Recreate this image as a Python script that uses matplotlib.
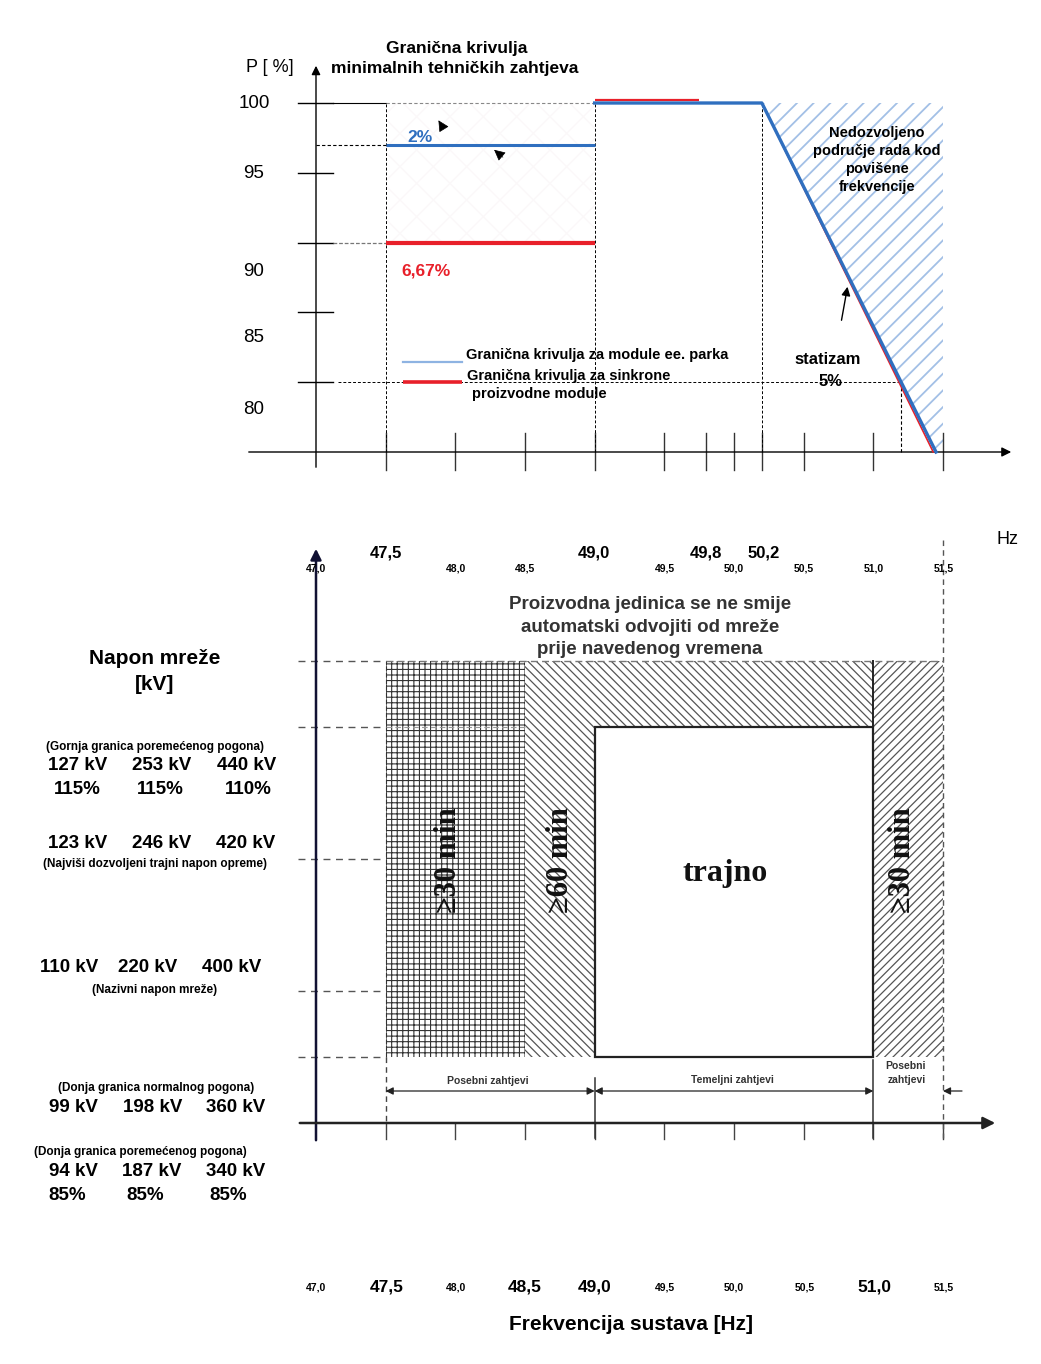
import matplotlib
matplotlib.use("Agg")
import matplotlib.pyplot as plt
from matplotlib.patches import Polygon, Rectangle

plt.rcParams['font.family'] = ['Liberation Sans', 'DejaVu Sans']

# ---------------- data ----------------
freq_ticks_top = [47.5, 48.0, 48.5, 49.0, 49.5, 49.8, 50.0, 50.2, 50.5, 51.0, 51.5]
p_ticks = [100, 95, 90, 85, 80]
p_tick_labels = ['100', '95', '90', '85', '80']

blue_low_f = [47.5, 49.0]
blue_low_p = [97, 97]
red_low_f = [47.5, 49.0]
red_low_p = [90, 90]
blue_curve_f = [49.0, 50.2, 51.45]
blue_curve_p = [100, 100, 75]
red_top_f = [49.0, 49.75]
red_top_p = [100, 100]
red_slope_f = [50.2, 51.43]
red_slope_p = [100, 75]
statizam_f = 51.2
statizam_p = 80

big_freq_labels_top = ['47,5', '49,0', '49,8', '50,2']
small_freq_labels_top = ['47,0', '48,0', '48,5', '49,5', '50,0', '50,5', '51,0', '51,5']

# bottom (schematic voltage rows)
band_edges = [47.5, 48.5, 49.0, 51.0, 51.5]
row_low_normal = 0
row_nominal = 1
row_mid = 3
row_max_cont = 5
row_upper = 6
dashed_rows = [6, 5, 3, 1, 0]
freq_ticks_bottom = [47.5, 48.0, 48.5, 49.0, 49.5, 50.0, 50.5, 51.0, 51.5]
bottom_labels = ['47,0', '47,5', '48,0', '48,5', '49,0', '49,5', '50,0', '50,5', '51,0', '51,5']
bottom_big = [False, True, False, True, True, False, False, False, True, False]

kv_upper = ['127 kV', '253 kV', '440 kV']
pct_upper = ['115%', '115%', '110%']
kv_max = ['123 kV', '246 kV', '420 kV']
kv_nom = ['110 kV', '220 kV', '400 kV']
kv_low_norm = ['99 kV', '198 kV', '360 kV']
kv_low_dist = ['94 kV', '187 kV', '340 kV']
pct_low = ['85%', '85%', '85%']

# ---------------- layout helpers ----------------
W, H = 1041, 1364
fig = plt.figure(figsize=(W / 100, H / 100), dpi=100)

HZ0_PX, PX_PER_HZ = 316.0, 139.33
P100_PY, PX_PER_PCT = 103.0, 13.96
ROW0_PY, PX_PER_ROW = 1057.0, 66.0


def hz(px):
    return 47.0 + (px - HZ0_PX) / PX_PER_HZ


def pct(py):
    return 100.0 - (py - P100_PY) / PX_PER_PCT


def row(py):
    return (ROW0_PY - py) / PX_PER_ROW


def ftext(xp, yp, s, **kw):
    kw.setdefault('ha', 'center')
    kw.setdefault('va', 'center')
    fig.text(xp / W, 1 - yp / H, s, **kw)


TOP_SPLIT = 500
ax1 = fig.add_axes([0, 1 - TOP_SPLIT / H, 1, TOP_SPLIT / H])
ax1.set_xlim(hz(0), hz(W))
ax1.set_ylim(pct(TOP_SPLIT), pct(0))
ax1.axis('off')

ax2 = fig.add_axes([0, 0, 1, (H - TOP_SPLIT) / H])
ax2.set_xlim(hz(0), hz(W))
ax2.set_ylim(row(H), row(TOP_SPLIT))
ax2.axis('off')

BLUE = '#2f6fbf'
RED = '#e8202a'
LBLUE = '#8eb3e2'

# ================= TOP CHART =================
# hatched forbidden region
with plt.rc_context({'hatch.linewidth': 1.3}):
    ax1.add_patch(Polygon([(blue_curve_f[1], 100), (blue_curve_f[2], 75), (51.5, 75), (51.5, 100)],
                          closed=True, facecolor='none', edgecolor='#a3c0e6', hatch='//', lw=0, zorder=1))
with plt.rc_context({'hatch.linewidth': 1.0}):
    ax1.add_patch(Rectangle((47.5, 90), 1.5, 10, facecolor='none', edgecolor='#fbf8f9',
                            hatch='x', lw=0, zorder=0))

# axes arrows
ax1.annotate('', xy=(47.0, pct(63)), xytext=(47.0, pct(470)),
             arrowprops=dict(arrowstyle='-|>', color='black', lw=1.0, mutation_scale=13))
ax1.annotate('', xy=(hz(1014), 75), xytext=(hz(246), 75),
             arrowprops=dict(arrowstyle='-|>', color='black', lw=1.0, mutation_scale=14))

# y ticks
for p in p_ticks:
    ax1.plot([hz(298), hz(333)], [p, p], color='black', lw=1.0)
# x ticks
for f in freq_ticks_top:
    ax1.plot([f, f], [pct(433), pct(470)], color='#333333', lw=1.0)

# guide lines
ax1.plot([hz(333), 47.5], [100, 100], color='black', lw=0.8)
ax1.plot([47.5, 49.0], [100, 100], color='#888888', lw=0.8, ls=(0, (3, 2)))
ax1.plot([47.0, 47.5], [97, 97], color='black', lw=0.8, ls=(0, (3, 2)))
ax1.plot([hz(333), 47.5], [90, 90], color='#777777', lw=0.9, ls=(0, (3, 1.5)))
ax1.plot([hz(338), statizam_f], [statizam_p, statizam_p], color='black', lw=0.7, ls=(0, (3, 2)))
for f in [47.5, 49.0, 50.2]:
    ax1.plot([f, f], [75, 100], color='black', lw=0.7, ls=(0, (3, 2)))
ax1.plot([statizam_f, statizam_f], [75, statizam_p], color='black', lw=0.8, ls=(0, (3, 2)))

# curves
ax1.plot(red_low_f, red_low_p, color=RED, lw=3.0, solid_capstyle='butt', zorder=3)
ax1.plot(blue_low_f, blue_low_p, color=BLUE, lw=2.2, solid_capstyle='butt', zorder=3)
ax1.plot(red_top_f, [v + 0.2 for v in red_top_p], color=RED, lw=1.6, solid_capstyle='butt', zorder=3)
ax1.plot(red_slope_f, red_slope_p, color=RED, lw=1.2, zorder=3)
ax1.plot(blue_curve_f, blue_curve_p, color=BLUE, lw=2.4, zorder=4)

# legend lines
ax1.plot([hz(403), hz(462)], [pct(362)] * 2, color=LBLUE, lw=1.6)
ax1.plot([hz(403), hz(462)], [pct(382)] * 2, color=RED, lw=2.6, solid_capstyle='butt')

# small arrows
ax1.annotate('', xy=(hz(437), pct(118)), xytext=(hz(445), pct(131)),
             arrowprops=dict(arrowstyle='-|>', color='black', lw=0.5, mutation_scale=17))
ax1.annotate('', xy=(hz(492), pct(148)), xytext=(hz(505), pct(159)),
             arrowprops=dict(arrowstyle='-|>', color='black', lw=0.5, mutation_scale=17))
ax1.annotate('', xy=(hz(848), pct(284)), xytext=(hz(841), pct(323)),
             arrowprops=dict(arrowstyle='-|>', color='black', lw=1.0, mutation_scale=13))

# texts top
ftext(457, 48, 'Granična krivulja', fontsize=12.5, fontweight='bold')
ftext(455, 69, 'minimalnih tehničkih zahtjeva', fontsize=12.5, fontweight='bold')
ftext(270, 68, 'P [ %]', fontsize=13)
for lab, yp in zip(p_tick_labels, [103, 173, 271, 338, 410]):
    ftext(254, yp, lab, fontsize=13.5)
ftext(420, 137, '2%', fontsize=12.5, fontweight='bold', color=BLUE)
ftext(426, 271, '6,67%', fontsize=12.5, fontweight='bold', color=RED)
ftext(466, 355, 'Granična krivulja za module ee. parka', fontsize=10.5, fontweight='bold', ha='left')
ftext(467, 376, 'Granična krivulja za sinkrone', fontsize=10.5, fontweight='bold', ha='left')
ftext(472, 394, 'proizvodne module', fontsize=10.5, fontweight='bold', ha='left')
for s, yp in zip(['Nedozvoljeno', 'područje rada kod', 'povišene', 'frekvencije'], [133, 151, 169, 187]):
    ftext(877, yp, s, fontsize=10.5, fontweight='bold')
ftext(828, 360, 'statizam', fontsize=12, fontweight='bold')
ftext(831, 381, '5%', fontsize=12, fontweight='bold')

# ================= BOTTOM CHART =================
GRAY = '#333333'
with plt.rc_context({'hatch.linewidth': 0.8}):
    ax2.add_patch(Rectangle((band_edges[0], row_low_normal), band_edges[1] - band_edges[0],
                            row_upper - row_low_normal, facecolor='white', edgecolor=GRAY,
                            hatch='+++', lw=0, zorder=1))
with plt.rc_context({'hatch.linewidth': 0.9}):
    ax2.add_patch(Polygon([(band_edges[1], row_low_normal), (band_edges[1], row_upper),
                           (band_edges[3], row_upper), (band_edges[3], row_max_cont),
                           (band_edges[2], row_max_cont), (band_edges[2], row_low_normal)],
                          closed=True, facecolor='white', edgecolor='#555555', hatch='\\\\\\\\',
                          lw=0, zorder=1))
    ax2.add_patch(Rectangle((band_edges[3], row_low_normal), band_edges[4] - band_edges[3],
                            row_upper - row_low_normal, facecolor='white', edgecolor='#555555',
                            hatch='////', lw=0, zorder=1))
ax2.add_patch(Rectangle((band_edges[2], row_low_normal), band_edges[3] - band_edges[2],
                        row_max_cont - row_low_normal, facecolor='white', edgecolor='#222222',
                        lw=1.6, zorder=2))
ax2.plot([band_edges[3], band_edges[3]], [row_max_cont, row_upper], color='#222222', lw=1.4, zorder=3)
ax2.plot([band_edges[0], band_edges[0]], [row_low_normal, row_upper], color=GRAY, lw=0.8,
         ls=(0, (4, 2)), zorder=3)

# dashed voltage levels
for r in dashed_rows:
    ax2.plot([hz(298), band_edges[0]], [r, r], color='#555555', lw=1.0, ls=(0, (5, 4)))
ax2.plot([band_edges[0], band_edges[4]], [row_upper, row_upper], color='#777777', lw=1.0,
         ls=(0, (5, 3)), zorder=3)
ax2.plot([band_edges[0], band_edges[1]], [row_max_cont, row_max_cont], color='#999999', lw=0.8,
         ls=(0, (5, 3)), zorder=3)

# axes arrows
ax2.annotate('', xy=(47.0, row(546)), xytext=(47.0, row(1143)),
             arrowprops=dict(arrowstyle='-|>', color='#111133', lw=1.8, mutation_scale=16))
ax2.annotate('', xy=(hz(998), -1), xytext=(hz(297), -1),
             arrowprops=dict(arrowstyle='-|>', color='#222222', lw=1.8, mutation_scale=18))
for f in freq_ticks_bottom:
    ax2.plot([f, f], [-1, row(1139)], color='#444444', lw=1.0)

# extension / dimension lines
ax2.plot([band_edges[0], band_edges[0]], [row_low_normal, -1], color='#444444', lw=1.0, ls=(0, (4, 3)))
ax2.plot([band_edges[2], band_edges[2]], [row(1078), row(1138)], color='#333333', lw=1.1)
ax2.plot([band_edges[3], band_edges[3]], [row(1060), row(1138)], color='#333333', lw=1.1)
ax2.plot([band_edges[4], band_edges[4]], [row(540), row(1138)], color='#555555', lw=1.0,
         ls=(0, (4, 3)))
ydim = row(1091)
for a, b in [(band_edges[0], band_edges[2]), (band_edges[2], band_edges[3])]:
    ax2.annotate('', xy=(a, ydim), xytext=(b, ydim),
                 arrowprops=dict(arrowstyle='<|-|>', color='#222222', lw=0.9, mutation_scale=11,
                                 shrinkA=0, shrinkB=0))
ax2.annotate('', xy=(band_edges[4], ydim), xytext=(hz(962), ydim),
             arrowprops=dict(arrowstyle='-|>', color='#222222', lw=0.9, mutation_scale=11,
                             shrinkA=0, shrinkB=0))

# bottom texts
ftext(488, 1081, 'Posebni zahtjevi', fontsize=7.5, fontweight='bold', color='#333333')
ftext(732, 1080, 'Temeljni zahtjevi', fontsize=7.5, fontweight='bold', color='#333333')
ftext(905, 1066, 'Posebni', fontsize=7.5, fontweight='bold', color='#333333')
ftext(907, 1080, 'zahtjevi', fontsize=7.5, fontweight='bold', color='#333333')

for s, yp in zip(['Proizvodna jedinica se ne smije', 'automatski odvojiti od mreže',
                  'prije navedenog vremena'], [604, 627, 649]):
    ftext(650, yp, s, fontsize=13.5, fontweight='bold', color='#333333')

SERIF = ['Liberation Serif', 'DejaVu Serif']
ftext(725, 873, 'trajno', fontsize=23, fontweight='bold', family=SERIF, color='#111111')
for xp, s in zip([449, 560, 903], ['≥30 min', '≥60 min', '≥30 min']):
    ftext(xp, 860, s, fontsize=22, fontweight='bold', family=SERIF, rotation=90, color='#111111')

# frequency labels on top of bottom chart
for s, xp in zip(big_freq_labels_top, [386, 594, 706, 764]):
    ftext(xp, 553, s, fontsize=12, fontweight='bold')
for s, xp in zip(small_freq_labels_top, [316, 456, 525, 665, 734, 804, 874, 944]):
    ftext(xp, 568, s, fontsize=7.5, fontweight='bold')
ftext(1008, 540, 'Hz', fontsize=13)

# bottom frequency labels
for s, big, xp in zip(bottom_labels, bottom_big, [316, 387, 456, 525, 595, 665, 734, 805, 874, 944]):
    ftext(xp, 1287, s, fontsize=12.5 if big else 7.5, fontweight='bold')
ftext(631, 1325, 'Frekvencija sustava [Hz]', fontsize=15, fontweight='bold')

# left voltage texts
ftext(155, 658, 'Napon mreže', fontsize=15, fontweight='bold')
ftext(155, 685, '[kV]', fontsize=15, fontweight='bold')
ftext(155, 747, '(Gornja granica poremećenog pogona)', fontsize=8.5, fontweight='bold')
for s, xp in zip(kv_upper, [78, 162, 247]):
    ftext(xp, 766, s, fontsize=13.5, fontweight='bold')
for s, xp in zip(pct_upper, [77, 160, 248]):
    ftext(xp, 790, s, fontsize=13.5, fontweight='bold')
for s, xp in zip(kv_max, [78, 162, 246]):
    ftext(xp, 843, s, fontsize=13.5, fontweight='bold')
ftext(155, 864, '(Najviši dozvoljeni trajni napon opreme)', fontsize=8.5, fontweight='bold')
for s, xp in zip(kv_nom, [69, 148, 232]):
    ftext(xp, 968, s, fontsize=13.5, fontweight='bold')
ftext(155, 990, '(Nazivni napon mreže)', fontsize=8.5, fontweight='bold')
ftext(156, 1088, '(Donja granica normalnog pogona)', fontsize=8.5, fontweight='bold')
for s, xp in zip(kv_low_norm, [73, 153, 236]):
    ftext(xp, 1108, s, fontsize=13.5, fontweight='bold')
ftext(140, 1152, '(Donja granica poremećenog pogona)', fontsize=8.5, fontweight='bold')
for s, xp in zip(kv_low_dist, [73, 152, 236]):
    ftext(xp, 1172, s, fontsize=13.5, fontweight='bold')
for s, xp in zip(pct_low, [67, 145, 228]):
    ftext(xp, 1196, s, fontsize=13.5, fontweight='bold')

fig.savefig('out.png', dpi=100, facecolor='white')
